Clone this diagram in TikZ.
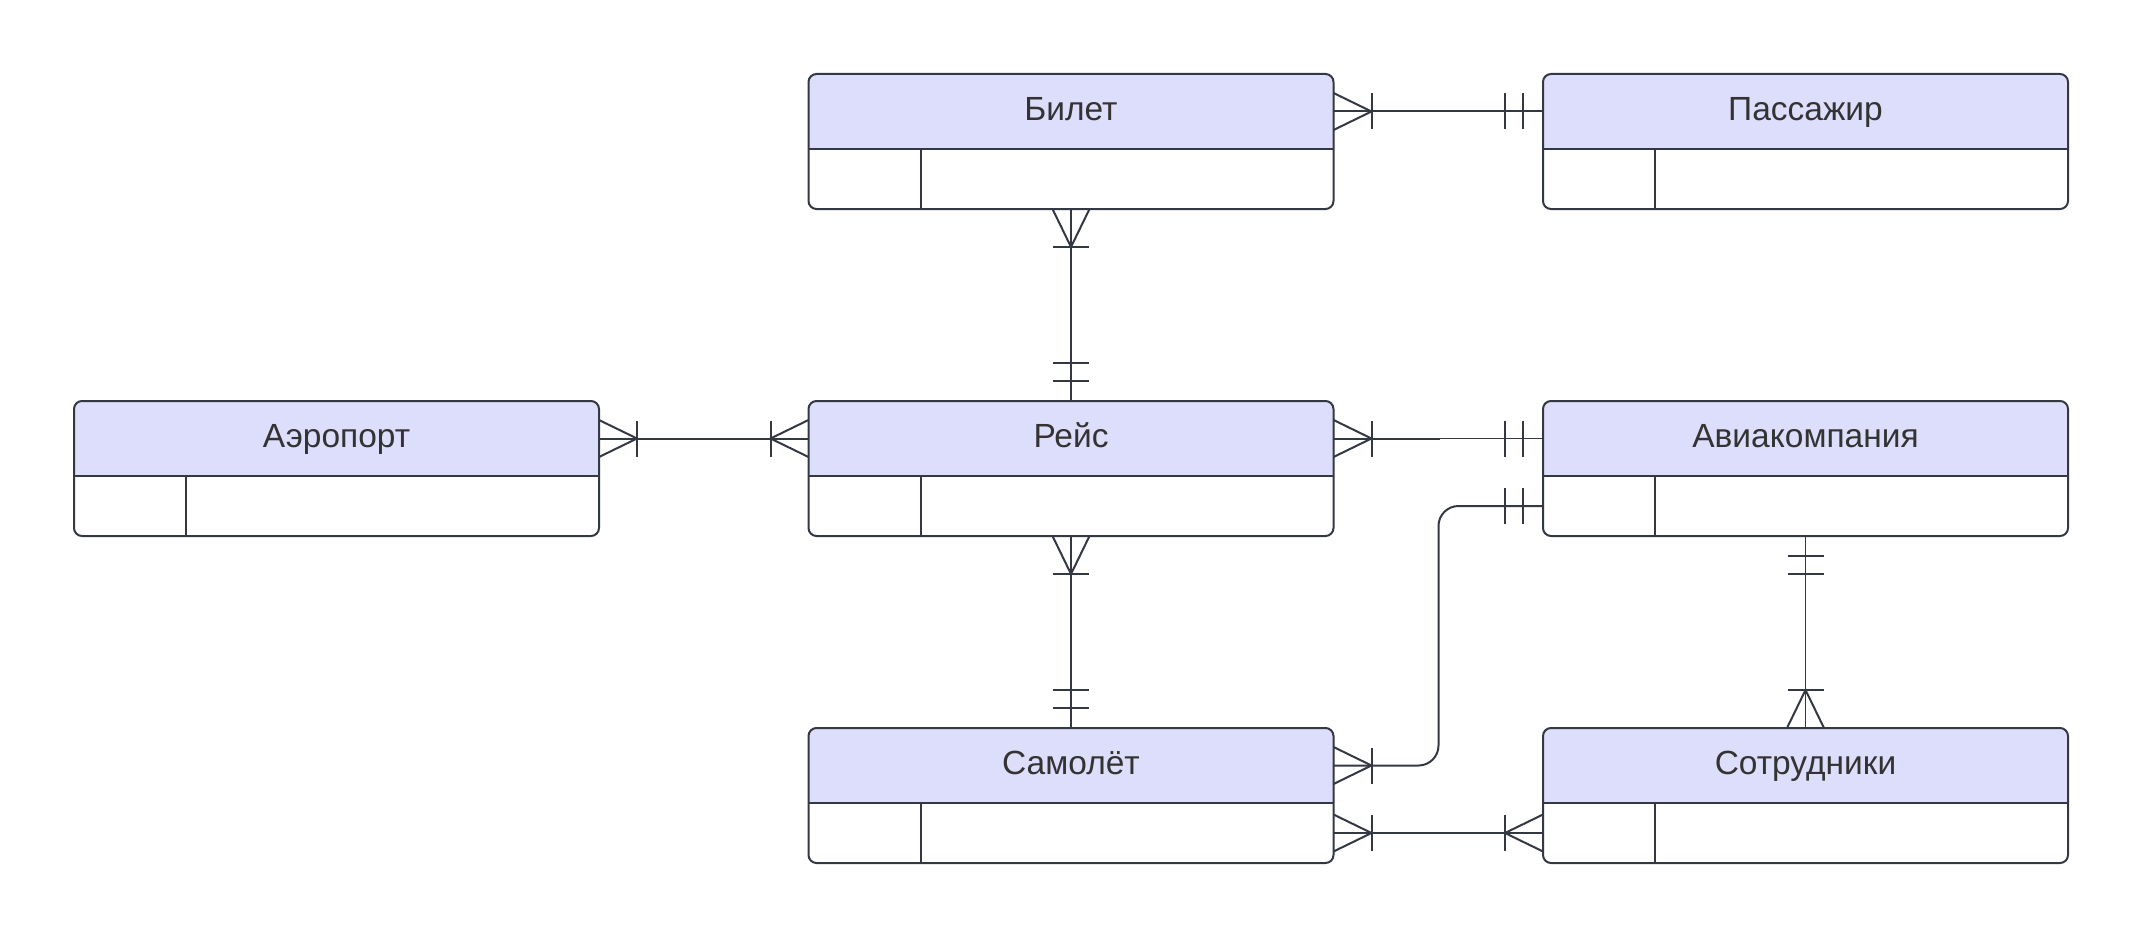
\documentclass[tikz,border=0pt]{standalone}
\usepackage{fontspec}
\setmainfont{Liberation Sans}
\usetikzlibrary{calc}
\definecolor{erhead}{RGB}{221,221,252}
\definecolor{erink}{RGB}{51,56,66}
\definecolor{ertext}{RGB}{51,51,51}
\tikzset{
  erline/.style={draw=erink, line width=2pt},
  erthin/.style={draw=erink, line width=1.1pt},
  erslot/.style={minimum width=525pt, inner sep=0pt, outer sep=0pt},
  ertitle/.style={anchor=base, text=ertext, font=\fontsize{33.5}{40}\selectfont, inner sep=0pt},
}
% entity table: name, left x, top y, title
\newcommand\erentity[4]{%
  \begin{scope}
    \clip[rounded corners=8pt] (#2,#3) rectangle ++(525,135);
    \fill[erhead] (#2,#3) rectangle ++(525,75);
  \end{scope}
  \node[erslot, minimum height=75pt] (#1) at (#2+262.5,#3+37.5) {};
  \node[erslot, minimum height=60pt] (#1-b) at (#2+262.5,#3+105) {};
  \draw[erline] (#1.south west) -- (#1.south east);
  \draw[erline] (#2+112,#3+75) -- (#2+112,#3+135);
  \draw[erline, rounded corners=8pt] (#2,#3) rectangle ++(525,135);
  \node[ertitle] (#1-t) at ($(#1.center)+(0,9)$) {#4};
}
% "one or more" end: crow's foot plus bar
\newcommand\ermany[2]{%
  \begin{scope}[shift={#1}, rotate=#2]
    \draw[erline] (0,18.5) -- (38,0) -- (0,-18.5);
    \draw[erline] (38,18) -- (38,-18);
  \end{scope}}
% "exactly one" end: two bars
\newcommand\erone[3][erline]{%
  \begin{scope}[shift={#2}, rotate=#3]
    \draw[erline] (20,18) -- (20,-18);
    \draw[#1] (38,18) -- (38,-18);
  \end{scope}}
\begin{document}
\begin{tikzpicture}[x=1pt, y=-1pt]
  \useasboundingbox (0,0) rectangle (2145,939);

  \erentity{bilet}{808.5}{74}{Билет}
  \erentity{pass}{1543}{74}{Пассажир}
  \erentity{aero}{74}{401}{Аэропорт}
  \erentity{reis}{808.5}{401}{Рейс}
  \erentity{avia}{1543}{401}{Авиакомпания}
  \erentity{samolet}{808.5}{728}{Самолёт}
  \erentity{sotr}{1543}{728}{Сотрудники}

  % Билет -- Пассажир
  \draw[erline] (bilet.east) -- (pass.west);
  \ermany{(bilet.east)}{0}
  \erone{(pass.west)}{180}

  % Билет -- Рейс
  \draw[erline] (bilet-b.south) -- (reis.north);
  \ermany{(bilet-b.south)}{-90}
  \erone{(reis.north)}{90}

  % Аэропорт -- Рейс
  \draw[erline] (aero.east) -- (reis.west);
  \ermany{(aero.east)}{0}
  \ermany{(reis.west)}{180}

  % Рейс -- Авиакомпания
  \draw[erthin] (reis.east) -- (avia.west);
  \draw[erline] (reis.east) -- ++(106,0);
  \ermany{(reis.east)}{0}
  \erone{(avia.west)}{180}

  % Рейс -- Самолёт
  \draw[erline] (reis-b.south) -- (samolet.north);
  \ermany{(reis-b.south)}{-90}
  \erone{(samolet.north)}{90}

  % Самолёт -- Авиакомпания
  \draw[erline, rounded corners=20pt] (samolet.east) -- ++(105,0) |- (avia-b.west);
  \ermany{(samolet.east)}{0}
  \erone{(avia-b.west)}{180}

  % Самолёт -- Сотрудники
  \draw[erthin] (samolet-b.east) -- (sotr-b.west);
  \draw[erline] (samolet-b.east) -- ++(61,0);
  \ermany{(samolet-b.east)}{0}
  \ermany{(sotr-b.west)}{180}

  % Авиакомпания -- Сотрудники
  \draw[erthin] (avia-b.south) -- (sotr.north);
  \erone[erthin]{(avia-b.south)}{-90}
  \ermany{(sotr.north)}{90}
\end{tikzpicture}
\end{document}
